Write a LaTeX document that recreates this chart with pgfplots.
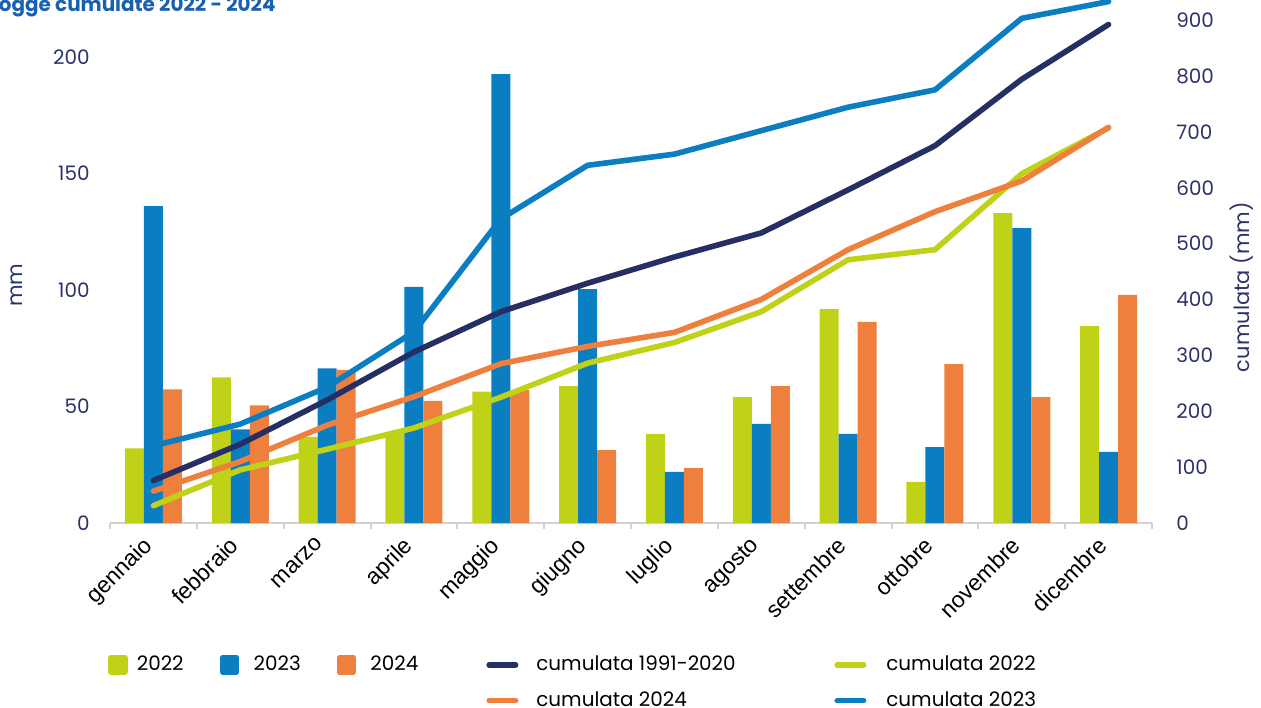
\documentclass[border=0pt]{standalone}
\usepackage{fontspec}
\setmainfont{Poppins}
\newfontfamily\lib{Liberation Sans}
\usepackage{pgfplots}
\pgfplotsset{compat=1.18}
\definecolor{cgreen}{RGB}{192,210,24}
\definecolor{cblue}{RGB}{11,126,194}
\definecolor{corange}{RGB}{238,127,60}
\definecolor{cnavy}{RGB}{38,47,100}
\definecolor{tnavy}{RGB}{43,50,104}
\definecolor{ttitle}{RGB}{26,96,176}
\definecolor{axgray}{RGB}{210,210,210}
\begin{document}
\begin{tikzpicture}
\pgfplotsset{
  common/.style={
    at={(55bp,-261.5bp)}, anchor=south west, scale only axis,
    width=521bp, height=261.5bp,
    xmin=-0.5, xmax=11.5,
    major tick length=0pt, minor tick length=3bp, tick align=outside,
    /pgf/number format/assume math mode=true,
  }
}
\begin{axis}[common,
  ymin=0, ymax=224.46,
  ybar=0pt, bar width=9.5bp,
  xtick={0,...,11},
  xticklabels={gennaio,febbraio,marzo,aprile,maggio,giugno,luglio,agosto,settembre,ottobre,novembre,dicembre},
  minor xtick={-0.5,0.5,...,11.5},
  minor x tick style={draw=axgray, line width=1bp},
  major x tick style={draw=none},
  axis x line*=bottom, x axis line style={draw=axgray, line width=1.2bp, -},
  axis y line*=left, y axis line style={draw=none},
  ytick={0,50,100,150,200}, y tick style={draw=none},
  yticklabel style={anchor=east, inner sep=0pt, font=\fontsize{10}{12}\selectfont, text=tnavy},
  yticklabel shift=10bp,
  xticklabel style={anchor=north east, xshift=-6bp, rotate=45, inner sep=0pt, font=\lib\fontsize{11.5}{13}\selectfont, text=black},
  xticklabel shift=6bp,
  ylabel={mm},
  ylabel style={at={(axis description cs:-0.0893,0.455)}, anchor=center, font=\fontsize{10.5}{12}\selectfont, text=tnavy},
]
\addplot[fill=cgreen, draw=none] coordinates {(0,32) (1,62.5) (2,37) (3,39) (4,56.4) (5,58.8) (6,38.2) (7,54) (8,91.8) (9,17.6) (10,133) (11,84.5)};
\addplot[fill=cblue, draw=none] coordinates {(0,136) (1,40.2) (2,66.4) (3,101.3) (4,192.7) (5,100.4) (6,21.9) (7,42.5) (8,38.2) (9,32.6) (10,126.6) (11,30.5)};
\addplot[fill=corange, draw=none] coordinates {(0,57.4) (1,50.5) (2,65.7) (3,52.4) (4,57) (5,31.3) (6,23.6) (7,58.8) (8,86.3) (9,68.2) (10,54) (11,97.9)};
\end{axis}
\begin{axis}[common,
  ymin=0, ymax=935.8,
  axis x line=none,
  axis y line*=right, y axis line style={draw=none},
  ytick={0,100,...,900}, y tick style={draw=none},
  yticklabel style={anchor=west, inner sep=0pt, font=\fontsize{10}{12}\selectfont, text=tnavy},
  yticklabel shift=12bp,
  ylabel={cumulata (mm)},
  ylabel style={at={(axis description cs:1.0864,0.451)}, anchor=center, font=\fontsize{10.5}{12}\selectfont, text=tnavy},
  every axis plot/.append style={line width=2.8bp, line join=round, line cap=round},
  legend columns=5,
  legend style={at={(axis description cs:0,0)}, anchor=north west, xshift=-1bp, yshift=-66bp,
    draw=none, fill=none, inner sep=0pt, outer sep=0pt, row sep=9bp,
    /tikz/every even column/.style={column sep=0pt}, /tikz/every odd column/.style={column sep=0pt},
    nodes={inner sep=0pt, text height=7bp, text depth=1bp, anchor=west},
    font=\fontsize{10}{12}\selectfont, text=black},
]
\addlegendimage{legend image code/.code={\fill[cgreen] (0bp,-3.5bp) rectangle (7bp,3.5bp); \path[draw=none,fill=none] (0bp,0bp) -- (13bp,0bp);}}
\addlegendentry{\makebox[41.5bp][l]{2022}}
\addlegendimage{legend image code/.code={\fill[cblue] (0bp,-3.5bp) rectangle (7bp,3.5bp); \path[draw=none,fill=none] (0bp,0bp) -- (15.5bp,0bp);}}
\addlegendentry{\makebox[41.5bp][l]{2023}}
\addlegendimage{legend image code/.code={\fill[corange] (0bp,-3.5bp) rectangle (7bp,3.5bp); \path[draw=none,fill=none] (0bp,0bp) -- (15.5bp,0bp);}}
\addlegendentry{\makebox[58bp][l]{2024}}
\addlegendimage{legend image code/.code={\draw[cnavy, line width=2.8bp, line cap=round] (1.4bp,0bp) -- (14.6bp,0bp); \path[draw=none,fill=none] (0bp,0bp) -- (25bp,0bp);}}
\addlegendentry{\makebox[149bp][l]{cumulata 1991-2020}}
\addlegendimage{legend image code/.code={\draw[cgreen, line width=2.8bp, line cap=round] (1.4bp,0bp) -- (14.6bp,0bp); \path[draw=none,fill=none] (0bp,0bp) -- (26bp,0bp);}}
\addlegendentry{cumulata 2022}
\addlegendimage{empty legend}\addlegendentry{}
\addlegendimage{empty legend}\addlegendentry{}
\addlegendimage{empty legend}\addlegendentry{}
\addlegendimage{legend image code/.code={\draw[corange, line width=2.8bp, line cap=round] (1.4bp,0bp) -- (14.6bp,0bp); \path[draw=none,fill=none] (0bp,0bp) -- (25bp,0bp);}}
\addlegendentry{\makebox[149bp][l]{cumulata 2024}}
\addlegendimage{legend image code/.code={\draw[cblue, line width=2.8bp, line cap=round] (1.4bp,0bp) -- (14.6bp,0bp); \path[draw=none,fill=none] (0bp,0bp) -- (26bp,0bp);}}
\addlegendentry{cumulata 2023}
\addplot[cnavy, forget plot] coordinates {(0,76) (1,141) (2,220) (3,306) (4,378) (5,429) (6,476) (7,519) (8,596) (9,675) (10,794) (11,892)};
\addplot[cgreen, forget plot] coordinates {(0,31) (1,95) (2,132) (3,170) (4,225) (5,286) (6,323) (7,378) (8,471) (9,489) (10,625) (11,707)};
\addplot[corange, forget plot] coordinates {(0,57) (1,110) (2,175) (3,226) (4,285) (5,316) (6,341) (7,400) (8,489) (9,557) (10,612) (11,708)};
\addplot[cblue, forget plot] coordinates {(0,138) (1,177) (2,243) (3,342) (4,544) (5,640) (6,660) (7,702) (8,744) (9,775) (10,903) (11,933)};
\end{axis}
\node[anchor=base east, inner sep=0pt, font=\fontsize{10}{12}\selectfont\bfseries, text=ttitle] at (138bp,-5.85bp) {Piogge cumulate 2022 - 2024};
\pgfresetboundingbox
\path[use as bounding box] (0bp,0bp) rectangle (630.5bp,-354bp);
\end{tikzpicture}
\end{document}
